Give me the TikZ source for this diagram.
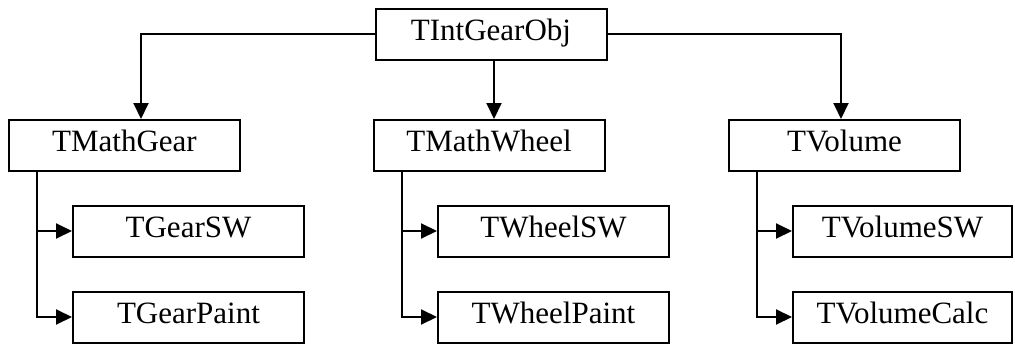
\documentclass[tikz,border=0pt]{standalone}
\usepackage{fontspec}
\setmainfont{Liberation Serif}
\usetikzlibrary{arrows.meta}

\begin{document}
\begin{tikzpicture}[x=1pt, y=-1pt,
		cls/.style={draw, line width=2pt, minimum width=231pt, minimum height=51pt, inner sep=0pt,
			text height=20pt, text depth=8pt, font=\fontsize{31}{37}\selectfont},
		inh/.style={line width=2pt, -{Triangle[length=16pt,width=15pt]}}]
		
		\useasboundingbox (0,0) rectangle (1015,345);
		
		\node[cls] (root) at (491,34.5) {TIntGearObj};
		
		\node[cls] (gear) at (124.5,145.5) {TMathGear};
		\node[cls] (wheel) at (489,145.5) {TMathWheel};
		\node[cls] (volume) at (844.5,145.5) {TVolume};
		
		\node[cls] (gearsw) at (188.5,231) {TGearSW};
		\node[cls] (gearpaint) at (188.5,317) {TGearPaint};
		\node[cls] (wheelsw) at (553.5,231) {TWheelSW};
		\node[cls] (wheelpaint) at (553.5,317) {TWheelPaint};
		\node[cls, minimum width=219pt] (volumesw) at (902.5,231) {TVolumeSW};
		\node[cls, minimum width=219pt] (volumecalc) at (902.5,317) {TVolumeCalc};
		
		\draw[inh] (root.west) -| ([xshift=16.5pt]gear.north);
		\draw[inh] ([xshift=3pt]root.south) -- ([xshift=3pt]root.south |- wheel.north);
		\draw[inh] (root.east) -| ([xshift=-3.5pt]volume.north);
		
		\draw[inh] ([xshift=29pt]gear.south west) |- (gearsw.west);
		\draw[inh] ([xshift=29pt]gear.south west) |- (gearpaint.west);
		\draw[inh] ([xshift=29pt]wheel.south west) |- (wheelsw.west);
		\draw[inh] ([xshift=29pt]wheel.south west) |- (wheelpaint.west);
		\draw[inh] ([xshift=29pt]volume.south west) |- (volumesw.west);
		\draw[inh] ([xshift=29pt]volume.south west) |- (volumecalc.west);
		
	\end{tikzpicture}
\end{document}
